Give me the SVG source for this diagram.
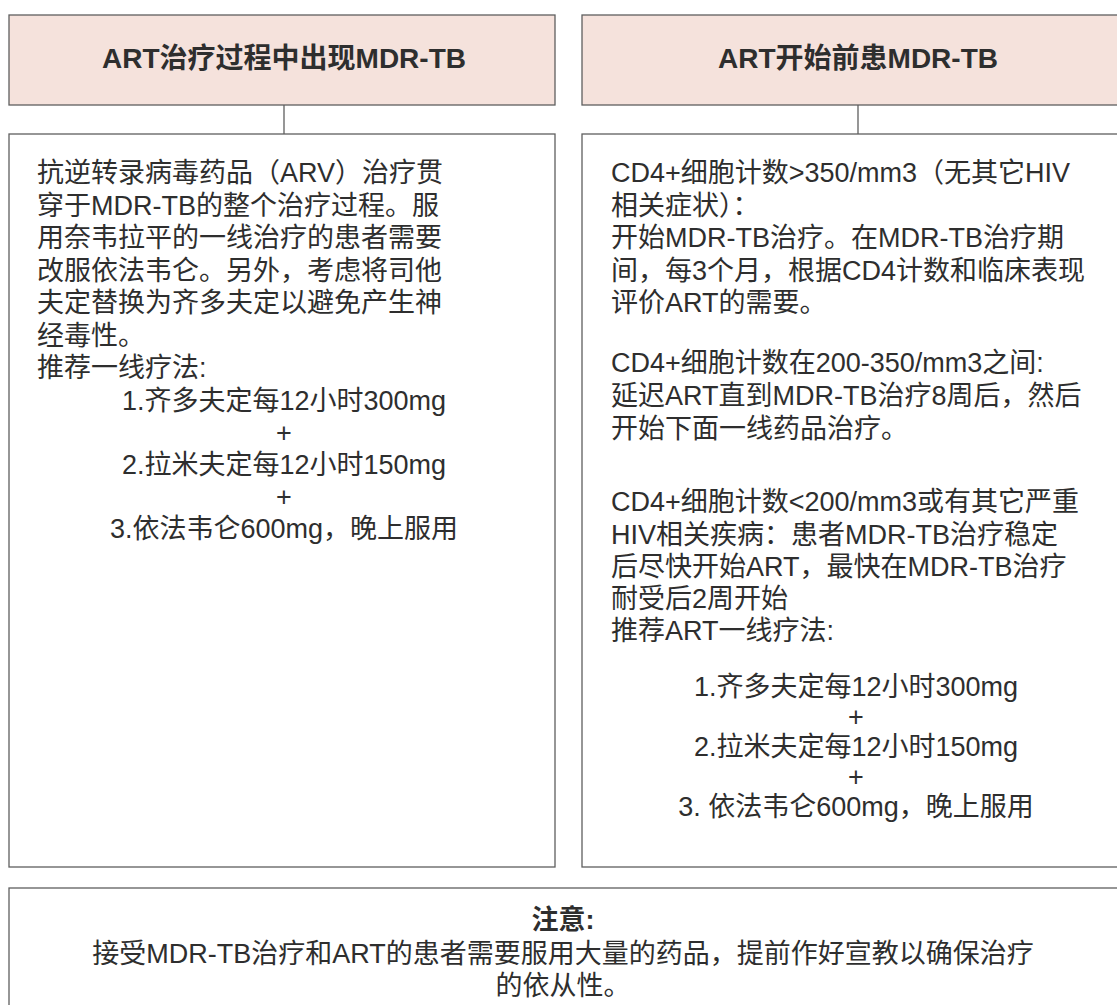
<svg xmlns="http://www.w3.org/2000/svg" width="1117" height="1005" viewBox="0 0 1117 1005">
<style>
.box{fill:#ffffff;stroke:#5f5f5f;stroke-width:1.3}
.hdr{fill:#f5e2dc;stroke:#5f5f5f;stroke-width:1.3}
.conn{stroke:#5f5f5f;stroke-width:1.3;fill:none}
text{font-family:"Liberation Sans","Noto Sans CJK SC",sans-serif;fill:#2e2e2e;font-size:27px}
.h{font-weight:bold;font-size:28px;text-anchor:middle}
.c{text-anchor:middle}
.b{font-weight:bold}
</style>
<rect width="1117" height="1005" fill="#ffffff"/>
<g id="connectors">
<line class="conn" x1="284" y1="105" x2="284" y2="134"/>
<line class="conn" x1="858" y1="105" x2="858" y2="134"/>
</g>
<g id="hdr-left">
<rect class="hdr" x="9" y="15" width="546" height="90"/>
<text class="h" x="284" y="68">ART治疗过程中出现MDR-TB</text>
</g>
<g id="hdr-right">
<rect class="hdr" x="582" y="15" width="560" height="90"/>
<text class="h" x="858" y="68">ART开始前患MDR-TB</text>
</g>
<g id="body-left">
<rect class="box" x="9" y="134" width="546" height="733"/>
<text x="37" y="182">抗逆转录病毒药品（ARV）治疗贯</text>
<text x="37" y="215">穿于MDR-TB的整个治疗过程。服</text>
<text x="37" y="247">用奈韦拉平的一线治疗的患者需要</text>
<text x="37" y="280">改服依法韦仑。另外，考虑将司他</text>
<text x="37" y="312">夫定替换为齐多夫定以避免产生神</text>
<text x="37" y="345">经毒性。</text>
<text x="37" y="377">推荐一线疗法:</text>
<text class="c" x="284" y="410">1.齐多夫定每12小时300mg</text>
<text class="c" x="284" y="442">+</text>
<text class="c" x="284" y="474">2.拉米夫定每12小时150mg</text>
<text class="c" x="284" y="506">+</text>
<text class="c" x="284" y="538">3.依法韦仑600mg，晚上服用</text>
</g>
<g id="body-right">
<rect class="box" x="582" y="134" width="560" height="733"/>
<text x="611" y="182">CD4+细胞计数&gt;350/mm3（无其它HIV</text>
<text x="611" y="215">相关症状）：</text>
<text x="611" y="247">开始MDR-TB治疗。在MDR-TB治疗期</text>
<text x="611" y="280">间，每3个月，根据CD4计数和临床表现</text>
<text x="611" y="312">评价ART的需要。</text>
<text x="611" y="372">CD4+细胞计数在200-350/mm3之间:</text>
<text x="611" y="405">延迟ART直到MDR-TB治疗8周后，然后</text>
<text x="611" y="438">开始下面一线药品治疗。</text>
<text x="611" y="511">CD4+细胞计数&lt;200/mm3或有其它严重</text>
<text x="611" y="544">HIV相关疾病：患者MDR-TB治疗稳定</text>
<text x="611" y="576">后尽快开始ART，最快在MDR-TB治疗</text>
<text x="611" y="608">耐受后2周开始</text>
<text x="611" y="640">推荐ART一线疗法:</text>
<text class="c" x="856" y="696">1.齐多夫定每12小时300mg</text>
<text class="c" x="856" y="726">+</text>
<text class="c" x="856" y="756">2.拉米夫定每12小时150mg</text>
<text class="c" x="856" y="786">+</text>
<text class="c" x="856" y="816">3. 依法韦仑600mg，晚上服用</text>
</g>
<g id="note">
<rect class="box" x="9" y="888" width="1133" height="130"/>
<text class="c b" x="563" y="929">注意:</text>
<text class="c" x="563" y="963">接受MDR-TB治疗和ART的患者需要服用大量的药品，提前作好宣教以确保治疗</text>
<text class="c" x="563" y="995">的依从性。</text>
</g>
</svg>
